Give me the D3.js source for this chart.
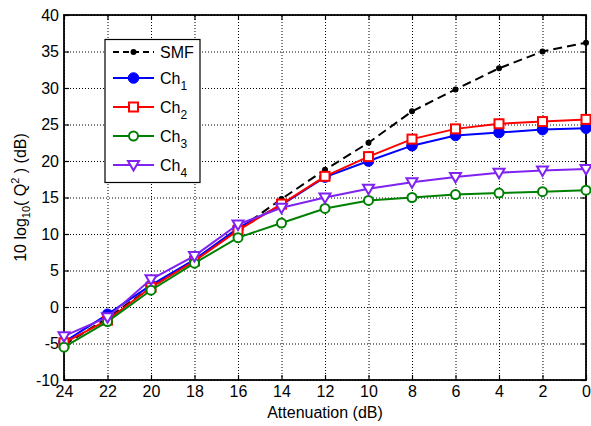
<!DOCTYPE html>
<html>
<head>
<meta charset="utf-8">
<script src="https://cdn.jsdelivr.net/npm/d3@7"></script>
<style>
  html, body { margin: 0; padding: 0; background: #fff; }
  svg text { font-family: "Liberation Sans", Arial, sans-serif; fill: #000; }
</style>
</head>
<body>
<svg id="chart" width="591" height="426"></svg>
<script>
// Received Q-factor versus optical attenuation
const attenuation = [24, 22, 20, 18, 16, 14, 12, 10, 8, 6, 4, 2, 0];
const smf = [-5.2, -1.5, 2.7, 6.4, 10.6, 14.8, 18.8, 22.5, 26.8, 29.8, 32.7, 35.0, 36.2];
const ch1 = [-4.8, -1.0, 3.0, 6.5, 10.8, 14.0, 17.8, 20.0, 22.1, 23.5, 23.9, 24.3, 24.5];
const ch2 = [-4.9, -1.8, 2.7, 6.3, 10.5, 14.1, 17.9, 20.6, 23.0, 24.4, 25.1, 25.4, 25.7];
const ch3 = [-5.5, -2.0, 2.3, 6.0, 9.5, 11.5, 13.5, 14.6, 15.0, 15.4, 15.6, 15.8, 16.0];
const ch4 = [-4.0, -1.4, 3.8, 7.0, 11.3, 13.6, 15.0, 16.2, 17.1, 17.8, 18.4, 18.7, 18.9];

const xTicks = [24, 22, 20, 18, 16, 14, 12, 10, 8, 6, 4, 2, 0];
const yTicks = [-10, -5, 0, 5, 10, 15, 20, 25, 30, 35, 40];

const series = [
  { name: "SMF", sub: null, values: smf, color: "#000000", marker: "dot", dash: "9,5" },
  { name: "Ch", sub: "1", values: ch1, color: "#0000ff", marker: "disc", dash: null },
  { name: "Ch", sub: "2", values: ch2, color: "#ff0000", marker: "square", dash: null },
  { name: "Ch", sub: "3", values: ch3, color: "#008000", marker: "circle", dash: null },
  { name: "Ch", sub: "4", values: ch4, color: "#8022f0", marker: "triangle", dash: null }
];

const svg = d3.select("#chart");
const plotL = 64, plotR = 586, plotT = 15, plotB = 380;
const fontSize = 16;

const x = d3.scaleLinear().domain([24, 0]).range([plotL, plotR]);
const y = d3.scaleLinear().domain([-10, 40]).range([plotB, plotT]);
const plainNumber = d => String(d);

// dotted grid
const grid = svg.append("g");
grid.append("g")
  .attr("transform", `translate(0,${plotB})`)
  .call(d3.axisBottom(x).tickValues(xTicks).tickSize(-(plotB - plotT)).tickFormat(""))
  .call(g => g.select(".domain").remove())
  .call(g => g.selectAll("line").attr("stroke", "#000").attr("stroke-width", 1).attr("stroke-dasharray", "1,2"));
grid.append("g")
  .attr("transform", `translate(${plotL},0)`)
  .call(d3.axisLeft(y).tickValues(yTicks).tickSize(-(plotR - plotL)).tickFormat(""))
  .call(g => g.select(".domain").remove())
  .call(g => g.selectAll("line").attr("stroke", "#000").attr("stroke-width", 1).attr("stroke-dasharray", "1,2"));

// axes with inward ticks
const tickLen = 5;
const styleAxis = g => {
  g.select(".domain").remove();
  g.selectAll("line").attr("stroke", "#000").attr("stroke-width", 1.2);
  g.selectAll("text").attr("font-size", fontSize).attr("fill", "#000");
};
svg.append("g")
  .attr("transform", `translate(0,${plotB})`)
  .call(d3.axisBottom(x).tickValues(xTicks).tickSizeInner(-tickLen).tickSizeOuter(0).tickPadding(6).tickFormat(plainNumber))
  .call(styleAxis);
svg.append("g")
  .attr("transform", `translate(0,${plotT})`)
  .call(d3.axisTop(x).tickValues(xTicks).tickSizeInner(-tickLen).tickSizeOuter(0).tickFormat(""))
  .call(styleAxis);
svg.append("g")
  .attr("transform", `translate(${plotL},0)`)
  .call(d3.axisLeft(y).tickValues(yTicks).tickSizeInner(-tickLen).tickSizeOuter(0).tickPadding(5).tickFormat(plainNumber))
  .call(styleAxis);
svg.append("g")
  .attr("transform", `translate(${plotR},0)`)
  .call(d3.axisRight(y).tickValues(yTicks).tickSizeInner(-tickLen).tickSizeOuter(0).tickFormat(""))
  .call(styleAxis);

// plot frame
svg.append("rect")
  .attr("x", plotL).attr("y", plotT)
  .attr("width", plotR - plotL).attr("height", plotB - plotT)
  .attr("fill", "none").attr("stroke", "#000").attr("stroke-width", 1.8);

// marker drawing
function drawMarker(g, kind, color) {
  if (kind === "dot") {
    g.append("circle").attr("r", 3).attr("fill", color).attr("stroke", "none");
  } else if (kind === "disc") {
    g.append("circle").attr("r", 5.3).attr("fill", color).attr("stroke", color).attr("stroke-width", 1);
  } else if (kind === "square") {
    g.append("rect").attr("x", -4.5).attr("y", -4.5).attr("width", 9).attr("height", 9)
      .attr("fill", "#fff").attr("stroke", color).attr("stroke-width", 2);
  } else if (kind === "circle") {
    g.append("circle").attr("r", 4.5).attr("fill", "#fff").attr("stroke", color).attr("stroke-width", 2);
  } else if (kind === "triangle") {
    g.append("path").attr("d", "M-5.5,-4 L5.5,-4 L0,5.5 Z")
      .attr("fill", "#fff").attr("stroke", color).attr("stroke-width", 2).attr("stroke-linejoin", "miter");
  }
}

const line = d3.line().x(d => x(d[0])).y(d => y(d[1]));
const plot = svg.append("g");
series.forEach(s => {
  const pts = attenuation.map((a, i) => [a, s.values[i]]);
  const g = plot.append("g");
  g.append("path")
    .attr("d", line(pts))
    .attr("fill", "none")
    .attr("stroke", s.color)
    .attr("stroke-width", 2)
    .attr("stroke-dasharray", s.dash);
  pts.forEach(p => {
    const m = g.append("g").attr("transform", `translate(${x(p[0])},${y(p[1])})`);
    drawMarker(m, s.marker, s.color);
  });
});

// axis titles
svg.append("text")
  .attr("x", (plotL + plotR) / 2).attr("y", 418)
  .attr("text-anchor", "middle").attr("font-size", fontSize)
  .text("Attenuation (dB)");

const yl = svg.append("text")
  .attr("transform", `translate(25.5,${(plotT + plotB) / 2}) rotate(-90)`)
  .attr("text-anchor", "middle").attr("font-size", fontSize);
yl.append("tspan").text("10 log");
yl.append("tspan").attr("font-size", 11).attr("dy", 4).text("10");
yl.append("tspan").attr("dy", -4).text("( Q");
yl.append("tspan").attr("font-size", 11).attr("dy", -7).text("2");
yl.append("tspan").attr("dy", 7).text(" ) (dB)");

// legend
const legend = svg.append("g");
legend.append("rect")
  .attr("x", 105).attr("y", 39.5).attr("width", 95).attr("height", 143)
  .attr("fill", "#fff").attr("stroke", "#000").attr("stroke-width", 1.2);
const rowY = [52, 78, 107, 136, 165];
series.forEach((s, i) => {
  const ry = rowY[i];
  legend.append("line")
    .attr("x1", 113).attr("x2", 154).attr("y1", ry).attr("y2", ry)
    .attr("stroke", s.color).attr("stroke-width", 2)
    .attr("stroke-dasharray", s.dash ? "6,4" : null);
  drawMarker(legend.append("g").attr("transform", `translate(133.5,${ry})`), s.marker, s.color);
  const t = legend.append("text")
    .attr("x", 160).attr("y", ry + 5.5).attr("font-size", fontSize);
  t.append("tspan").text(s.name);
  if (s.sub) t.append("tspan").attr("font-size", 12).attr("dy", 6).text(s.sub);
});
</script>
</body>
</html>
